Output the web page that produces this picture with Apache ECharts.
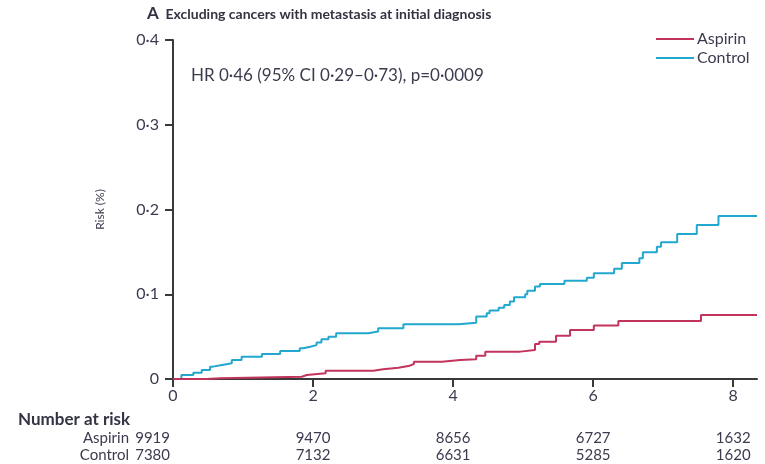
<!DOCTYPE html>
<html>
<head>
<meta charset="utf-8">
<style>
  html, body { margin: 0; padding: 0; background: #fff; }
  #chart { width: 765px; height: 464px; }
</style>
<script src="https://cdn.jsdelivr.net/npm/echarts@6/dist/echarts.min.js"></script>
</head>
<body>
<div id="chart"></div>
<script>
// Cumulative risk (%) step curves: event times (years) and risk after each step
const controlYears = [0, 0.12, 0.29, 0.41, 0.53, 0.57, 0.70, 0.84, 0.98, 1.27, 1.53, 1.81, 1.86, 1.96, 2.05, 2.12, 2.22, 2.33, 2.79, 2.93, 3.29, 4.08, 4.33, 4.48, 4.52, 4.65, 4.73, 4.81, 4.87, 5.03, 5.06, 5.17, 5.24, 5.59, 5.91, 6.01, 6.30, 6.41, 6.66, 6.71, 6.91, 6.97, 7.20, 7.48, 7.79, 8.34];
const controlRisk = [0, 0.0047, 0.0075, 0.0106, 0.0146, 0.0165, 0.0185, 0.0224, 0.0264, 0.0295, 0.033, 0.0362, 0.038, 0.040, 0.043, 0.0468, 0.050, 0.054, 0.056, 0.060, 0.0645, 0.0665, 0.0736, 0.0775, 0.0807, 0.0842, 0.0874, 0.0913, 0.0964, 0.100, 0.104, 0.109, 0.112, 0.116, 0.1196, 0.1248, 0.130, 0.137, 0.1425, 0.1496, 0.156, 0.1614, 0.171, 0.1818, 0.1924, 0.1924];

const aspirinYears = [0, 0.48, 0.67, 1.84, 1.91, 2.18, 2.86, 3.00, 3.22, 3.38, 3.44, 3.84, 4.10, 4.33, 4.46, 4.96, 5.17, 5.23, 5.47, 5.67, 6.01, 6.36, 7.54, 8.34];
const aspirinRisk = [0, 0.001, 0.0027, 0.0047, 0.0067, 0.0098, 0.0114, 0.0134, 0.0157, 0.0177, 0.0204, 0.0224, 0.0232, 0.0275, 0.0323, 0.0342, 0.0413, 0.044, 0.0511, 0.0578, 0.063, 0.0685, 0.0756, 0.0756];

// Number at risk table
const riskYears = [0, 2, 4, 6, 8];
const aspirinAtRisk = [9919, 9470, 8656, 6727, 1632];
const controlAtRisk = [7380, 7132, 6631, 5285, 1620];

const xTicks = [0, 2, 4, 6, 8];
const seriesNames = ['Aspirin', 'Control'];

const FONT = 'Lato';
const TEXT = '#3b3b4f';
const AXIS = '#3a3a3a';
const RED = '#c2345c';
const CYAN = '#22a8cf';

const dot = v => String(v).replace('.', '\u00b7');
const pairs = (xs, ys) => xs.map((x, i) => [x, ys[i]]);

const chart = echarts.init(document.getElementById('chart'), null, { renderer: 'canvas' });

const option = {
  animation: false,
  textStyle: { fontFamily: FONT },
  grid: { left: 173, right: 8, top: 40, bottom: 85, containLabel: false },
  legend: {
    data: seriesNames,
    orient: 'vertical',
    left: 651,
    top: 26,
    itemWidth: 38,
    itemHeight: 2,
    itemGap: 3,
    icon: 'rect',
    textStyle: { fontFamily: FONT, fontSize: 16, color: TEXT, padding: [0, 0, 0, -2] }
  },
  xAxis: {
    type: 'value',
    min: 0,
    max: 8.34,
    interval: 2,
    splitLine: { show: false },
    axisLine: { lineStyle: { color: AXIS, width: 2 } },
    axisTick: { show: true, length: 8, lineStyle: { color: AXIS, width: 2 }, customValues: xTicks },
    axisLabel: { customValues: xTicks, margin: 9, fontSize: 16, color: TEXT, fontFamily: FONT }
  },
  yAxis: {
    type: 'value',
    min: 0,
    max: 0.4,
    interval: 0.1,
    name: 'Risk (%)',
    nameLocation: 'middle',
    nameGap: 67,
    nameTextStyle: { fontSize: 12, color: TEXT, fontFamily: FONT },
    splitLine: { show: false },
    axisLine: { show: true, lineStyle: { color: AXIS, width: 2 } },
    axisTick: { show: true, length: 8, lineStyle: { color: AXIS, width: 2 } },
    axisLabel: {
      margin: 14, fontSize: 16, color: TEXT, fontFamily: FONT,
      formatter: v => (v === 0 ? '0' : dot(v.toFixed(1)))
    }
  },
  series: [
    {
      name: 'Control',
      type: 'line',
      step: 'end',
      showSymbol: false,
      data: pairs(controlYears, controlRisk),
      lineStyle: { color: CYAN, width: 2 },
      itemStyle: { color: CYAN },
      z: 2
    },
    {
      name: 'Aspirin',
      type: 'line',
      step: 'end',
      showSymbol: false,
      data: pairs(aspirinYears, aspirinRisk),
      lineStyle: { color: RED, width: 2 },
      itemStyle: { color: RED },
      z: 3
    }
  ]
};

chart.setOption(option);

// Title, hazard-ratio note and the number-at-risk table
const rowY = [438, 455];
const tableElems = [];
const rows = [aspirinAtRisk, controlAtRisk];
rows.forEach((vals, r) => {
  tableElems.push({
    type: 'text', x: 129, y: rowY[r],
    style: { text: seriesNames[r], font: '15px ' + FONT, fill: TEXT, textAlign: 'right', textVerticalAlign: 'middle' }
  });
  vals.forEach((n, i) => {
    const px = chart.convertToPixel({ xAxisIndex: 0 }, riskYears[i]);
    // the baseline column sits just left of the y axis
    const first = i === 0;
    tableElems.push({
      type: 'text', x: first ? px - 3 : px, y: rowY[r],
      style: { text: String(n), font: '15px ' + FONT, fill: TEXT, textAlign: first ? 'right' : 'center', textVerticalAlign: 'middle' }
    });
  });
});

chart.setOption({
  graphic: [
    {
      type: 'text', x: 147, y: 14,
      style: {
        text: '{a|A}  {b|Excluding cancers with metastasis at initial diagnosis}',
        textVerticalAlign: 'middle',
        rich: {
          a: { font: 'bold 17px ' + FONT, fill: '#333344' },
          b: { font: 'bold 14px ' + FONT, fill: '#333344' }
        }
      }
    },
    {
      type: 'text', x: 191, y: 76,
      style: { text: 'HR 0\u00b746 (95% CI 0\u00b729\u20130\u00b773), p=0\u00b70009', font: '17px ' + FONT, fill: TEXT, textVerticalAlign: 'middle' }
    },
    {
      type: 'text', x: 18, y: 420,
      style: { text: 'Number at risk', font: 'bold 17px ' + FONT, fill: '#333344', textVerticalAlign: 'middle' }
    }
  ].concat(tableElems)
});
</script>
</body>
</html>
